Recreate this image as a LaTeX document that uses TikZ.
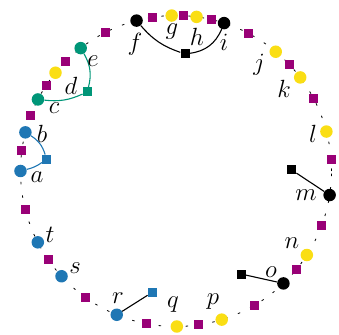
\documentclass[tikz,border=0pt]{standalone}
\usetikzlibrary{positioning}
\definecolor{cblue}{RGB}{31,119,180}
\definecolor{cteal}{RGB}{0,150,120}
\definecolor{cyel}{RGB}{250,222,20}
\definecolor{cpurp}{RGB}{153,0,119}
\tikzset{
  dot/.style={circle,fill=#1,inner sep=0pt,minimum size=12.5pt},
  sq/.style={rectangle,fill=#1,inner sep=0pt,minimum size=9pt},
  lbl/.style={inner sep=0pt,font=\fontsize{30}{34}\selectfont},
  ring/.style={line width=0.8pt,dash pattern=on 2.5pt off 11pt},
  conn/.style={line width=1.1pt}
}
\begin{document}
\begin{tikzpicture}[x=1pt,y=1pt]
\useasboundingbox (-176,-163) rectangle (163,171);
\coordinate (ctr) at (0,0);
\draw[ring] (ctr) circle (155.5);
% purple squares on ring
\foreach \ang [count=\k] in {172.5,159.0,146.5,135.1,116.8,98.7,87.1,76.8,62.3,43.0,27.9,4.1,339.3,320.7,300.2,278.2,258.9,234.3,214.7,194.5}
  \node[sq=cpurp] (p\k) at (\ang:155.5) {};
% ring nodes
\node[dot=cblue]  (a) at (180:155.5) {};
\node[dot=cblue]  (b) at (165.6:155.5) {};
\node[dot=cteal]  (c) at (152.6:155.5) {};
\node[dot=cyel]   (d) at (140.8:155.5) {};
\node[dot=cteal]  (e) at (127.8:155.5) {};
\node[dot=black]  (f) at (104.7:155.5) {};
\node[dot=cyel]   (g) at (91.6:155.5) {};
\node[dot=cyel]   (h) at (82.4:155.5) {};
\node[dot=black]  (i) at (72.0:155.5) {};
\node[dot=cyel]   (j) at (50.1:155.5) {};
\node[dot=cyel]   (k) at (37.0:155.5) {};
\node[dot=cyel]   (l) at (14.7:155.5) {};
\node[dot=black]  (m) at (351.1:155.5) {};
\node[dot=cyel]   (n) at (327.3:155.5) {};
\node[dot=black]  (o) at (313.7:155.5) {};
\node[dot=cyel]   (p) at (287.1:155.5) {};
\node[dot=cyel]   (q) at (270.3:155.5) {};
\node[dot=cblue]  (r) at (247.6:155.5) {};
\node[dot=cblue]  (s) at (222.6:155.5) {};
\node[dot=cblue]  (t) at (207.3:155.5) {};
% inner squares
\node[sq=cteal] (tsq) at (-88.7,79) {};
\node[sq=cblue] (bsq) at (-129.3,11.7) {};
\node[sq=black] (ksq) at (9,117) {};
\node[sq=black] (msq) at (115.7,1) {};
\node[sq=black] (osq) at (65,-103) {};
\node[sq=cblue] (rsq) at (-23.7,-121.3) {};
% connectors
\draw[conn,cteal] (c) to[bend right=15] (tsq);
\draw[conn,cteal] (e) to[bend left=22] (tsq);
\draw[conn,cblue] (b) to[bend left=20] (bsq);
\draw[conn,cblue] (a) to[bend right=10] (bsq);
\draw[conn] (f) to[bend right=15] (ksq);
\draw[conn] (i) to[bend left=30] (ksq);
\draw[conn] (m) -- (msq);
\draw[conn] (o) -- (osq);
\draw[conn] (r) -- (rsq);
% labels
\node[lbl] (la) at (-139,-6) {$a$};
\node[lbl] (lb) at (-134,37) {$b$};
\node[lbl] (lc) at (-122,63) {$c$};
\node[lbl] (ld) at (-105,85) {$d$};
\node[lbl] (le) at (-83,110) {$e$};
\node[lbl] (lf) at (-41,127) {$f$};
\node[lbl] (lg) at (-4,139) {$g$};
\node[lbl] (lh) at (21,134) {$h$};
\node[lbl] (li) at (48,129) {$i$};
\node[lbl] (lj) at (83,106) {$j$};
\node[lbl] (lk) at (108,82) {$k$};
\node[lbl] (ll) at (137,37) {$l$};
\node[lbl] (lm) at (130,-24) {$m$};
\node[lbl] (ln) at (116,-72) {$n$};
\node[lbl] (lo) at (95,-101) {$o$};
\node[lbl] (lp) at (37,-131) {$p$};
\node[lbl] (lq) at (-3,-134) {$q$};
\node[lbl] (lr) at (-58,-127) {$r$};
\node[lbl] (ls) at (-101,-97) {$s$};
\node[lbl] (lt) at (-126,-64) {$t$};
\end{tikzpicture}
\end{document}
